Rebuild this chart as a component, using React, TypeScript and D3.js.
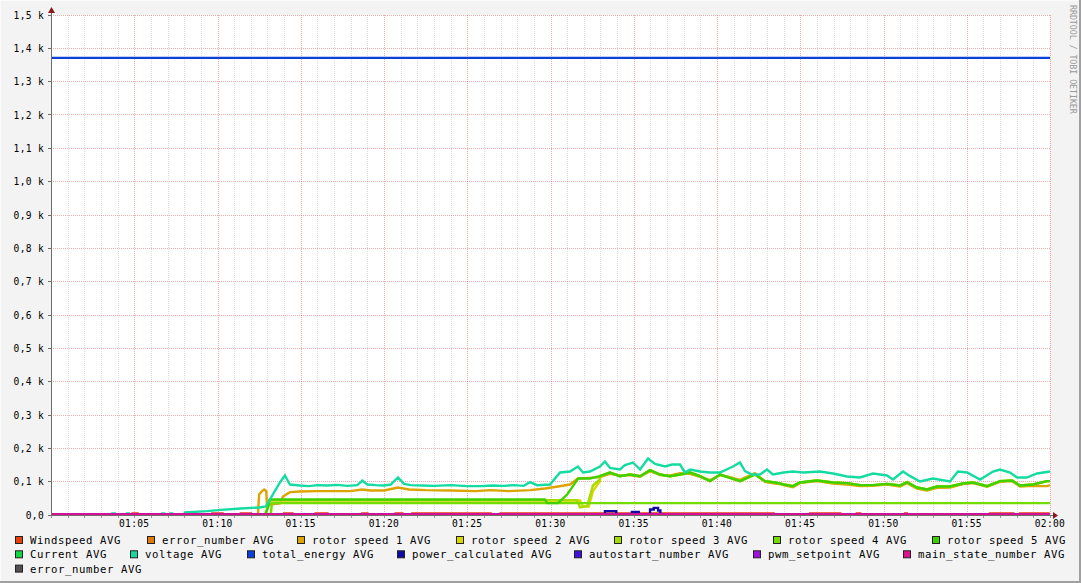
import React from "react";
import * as d3 from "d3";

type Pt = [number, number];

// ---------- DATA ----------
const seriesNames = [
  "Windspeed AVG",
  "error_number AVG",
  "rotor speed 1 AVG",
  "rotor speed 2 AVG",
  "rotor speed 3 AVG",
  "rotor speed 4 AVG",
  "rotor speed 5 AVG",
  "Current AVG",
  "voltage AVG",
  "total_energy AVG",
  "power_calculated AVG",
  "autostart_number AVG",
  "pwm_setpoint AVG",
  "main_state_number AVG",
  "error_number AVG",
];

const seriesColors = [
  "#e8400c",
  "#e0780c",
  "#dca400",
  "#d8d800",
  "#a8dc00",
  "#74dc00",
  "#40d000",
  "#10d840",
  "#14dca0",
  "#0c40d8",
  "#0c0ca4",
  "#4010e0",
  "#a010dc",
  "#e0108c",
  "#505050",
];

const yTickValues = [0, 100, 200, 300, 400, 500, 600, 700, 800, 900, 1000, 1100, 1200, 1300, 1400, 1500];

// minutes after 01:00, value
const windspeed: Pt[] = [
  [0, 0], [4.9, 3], [5.2, 0], [9.7, 3], [10.3, 0], [11.4, 3], [12.0, 0], [14.0, 3], [14.5, 0],
  [15.9, 3], [16.6, 0], [18.7, 3], [19.0, 0], [20.7, 3], [21.1, 0], [21.7, 3], [26.4, 0],
  [27.0, 3], [43.4, 0],
  [45.6, 3], [47.4, 0], [48.4, 3], [48.6, 0], [51.3, 3], [51.4, 0], [56.4, 3], [57.8, 0],
  [58.2, 3], [59.9, 0], [60, 0],
];
const errorNumber: Pt[] = [[0, 0], [60, 0]];
const rotor1: Pt[] = [
  [0, 0], [12.43, 0], [12.5, 60], [12.65, 69], [12.8, 75], [12.93, 70], [12.97, 24], [13.15, 30],
  [13.75, 33], [13.93, 54], [14.35, 67], [14.95, 69], [16, 70], [17, 70], [18, 70], [18.68, 75],
  [19.2, 72], [20.0, 72], [20.84, 81], [21.5, 75], [22.5, 73], [24, 72], [25.5, 70], [26.4, 73],
  [27.5, 70], [28.77, 73], [29.67, 78], [30.45, 84], [31.17, 90], [31.65, 108], [32.37, 110],
  [32.97, 112], [33.57, 122], [34.17, 117], [34.77, 118], [35.38, 113], [35.98, 130], [36.58, 118],
  [37.18, 117], [37.78, 124], [38.38, 122], [38.98, 113], [39.58, 103], [40.18, 118], [40.78, 112],
  [41.38, 104], [42.28, 124], [42.88, 98], [43.48, 93], [43.78, 91], [44.0, 88], [44.56, 82],
  [44.98, 94], [46.0, 100], [46.97, 93], [47.81, 90], [48.59, 85], [49.37, 86], [50.21, 90],
  [50.99, 84], [51.41, 94], [52.01, 78], [52.61, 72], [53.21, 80], [53.99, 81], [54.77, 91],
  [55.38, 94], [56.22, 83], [57.0, 98], [57.72, 100], [58.2, 84], [58.98, 86], [59.82, 85], [60, 88],
];
const rotor2Head: Pt[] = [
  [0, 0], [12.9, 0], [13.1, 42], [31.77, 42], [31.95, 24], [32.3, 24], [32.55, 70], [32.97, 100],
];
const rotor3Head: Pt[] = [
  [0, 0], [12.9, 0], [13.1, 43], [31.6, 43], [31.77, 21], [32.2, 25], [32.55, 87], [32.97, 105],
];
const rotor4: Pt[] = [[0, 0], [13.2, 0], [13.27, 34], [60, 34]];
const rotor5Head: Pt[] = [
  [0, 0], [12.85, 0], [13.03, 20], [13.15, 45], [29.67, 45], [29.8, 34], [30.45, 34], [31.0, 60],
  [31.35, 85], [31.65, 108], [32.37, 108],
];
const rotorGroupTail: Pt[] = [
  [32.97, 115], [33.57, 126], [34.17, 115], [34.77, 120], [35.38, 115], [35.98, 133], [36.58, 120],
  [37.18, 115], [37.78, 120], [38.38, 126], [38.98, 115], [39.58, 100], [40.18, 120], [40.78, 110],
  [41.38, 100], [42.28, 120], [42.88, 100], [43.48, 96], [43.78, 93], [44.0, 90], [44.56, 85],
  [44.98, 96], [46.0, 102], [46.97, 96], [47.81, 94], [48.59, 88], [49.37, 88], [50.21, 92],
  [50.99, 87], [51.41, 97], [52.01, 81], [52.61, 75], [53.21, 84], [53.99, 84], [54.77, 93],
  [55.38, 96], [56.22, 85], [57.0, 100], [57.72, 102], [58.2, 87], [58.98, 90], [59.82, 100], [60, 100],
];
const current: Pt[] = [[0, 0], [60, 0]];
const voltage: Pt[] = [
  [0, 0], [3.6, 0], [3.66, 3], [3.85, 3], [3.9, 0], [4.5, 0], [4.56, 3], [4.7, 3], [4.75, 0],
  [6.6, 0], [6.67, 3], [6.8, 3], [6.85, 0], [7.1, 0], [7.15, 3], [7.3, 3], [7.35, 0], [8.0, 0],
  [8.05, 6], [9.37, 10], [10.2, 14], [11.4, 18], [12.5, 21], [12.9, 24], [13.15, 45], [13.75, 96],
  [14.05, 117], [14.35, 90], [14.95, 87], [15.5, 85], [16, 88], [16.6, 87], [17.2, 89], [17.8, 86],
  [18.4, 88], [18.7, 102], [19.0, 90], [19.5, 88], [20.0, 87], [20.4, 90], [20.84, 111], [21.2, 92],
  [21.6, 88], [22.3, 87], [23, 86], [24, 88], [25, 85], [25.8, 85], [26.5, 87], [27.2, 86],
  [27.8, 88], [28.4, 86], [28.77, 97], [29.2, 88], [29.97, 90], [30.57, 126], [31.17, 129],
  [31.65, 144], [31.95, 126], [32.37, 129], [32.97, 144], [33.27, 159], [33.57, 140], [34.17, 135],
  [34.47, 148], [34.95, 156], [35.38, 135], [35.86, 168], [36.28, 152], [36.88, 144], [37.3, 150],
  [37.78, 150], [38.08, 126], [38.38, 135], [38.98, 129], [39.58, 126], [40.18, 126], [40.96, 144],
  [41.38, 156], [41.68, 130], [42.1, 120], [42.58, 120], [43.0, 135], [43.36, 120], [44.0, 126],
  [44.56, 129], [45.2, 126], [46.19, 129], [46.97, 123], [47.81, 114], [48.59, 111], [49.37, 123],
  [50.21, 117], [50.57, 105], [51.17, 129], [51.6, 115], [52.19, 99], [52.97, 108], [53.99, 99],
  [54.47, 129], [55.02, 126], [55.8, 105], [56.58, 129], [57.0, 135], [57.6, 126], [58.02, 111],
  [58.6, 111], [59.22, 123], [60, 129],
];
const totalEnergy: Pt[] = [[0, 1370], [60, 1370]];
const powerCalculated: Pt[] = [
  [0, 0], [33.2, 0], [33.27, 10], [33.87, 10], [33.95, 0], [34.8, 0], [34.89, 8], [35.2, 8], [35.3, 0],
  [35.9, 0], [35.98, 15], [36.2, 20], [36.46, 12], [36.6, 0], [60, 0],
];
const autostartNumber: Pt[] = [[0, 0], [60, 0]];
const pwmSetpoint: Pt[] = [[0, 0], [60, 0]];
const mainStateNumber: Pt[] = [[0, 0], [60, 0]];
const errorNumber2: Pt[] = [];

const seriesData: Pt[][] = [
  windspeed,
  errorNumber,
  rotor1,
  rotor2Head.concat(rotorGroupTail),
  rotor3Head.concat(rotorGroupTail),
  rotor4,
  rotor5Head.concat(rotorGroupTail),
  current,
  voltage,
  totalEnergy,
  powerCalculated,
  autostartNumber,
  pwmSetpoint,
  mainStateNumber,
  errorNumber2,
];
const stepSeries = [0, 10];

// legend layout (rows of series indices with swatch x positions)
const legendRows: { idx: number; x: number }[][] = [
  [{ idx: 0, x: 15 }, { idx: 1, x: 147 }, { idx: 2, x: 297 }, { idx: 3, x: 456 }, { idx: 4, x: 614 }, { idx: 5, x: 773 }, { idx: 6, x: 932 }],
  [{ idx: 7, x: 15 }, { idx: 8, x: 130 }, { idx: 9, x: 247 }, { idx: 10, x: 397 }, { idx: 11, x: 574 }, { idx: 12, x: 753 }, { idx: 13, x: 903 }],
  [{ idx: 14, x: 15 }],
];

const T0 = new Date(2024, 0, 1, 1, 0, 0).getTime();
const toDate = (m: number) => new Date(T0 + m * 60000);

const MONO = "'DejaVu Sans Mono', monospace";

export default function App() {
  const W = 1081, H = 583;
  const L = 51, R = 1050, TOP = 15, BOT = 515;
  const x = d3.scaleTime().domain([toDate(0), toDate(60)]).range([L, R]);
  const y = d3.scaleLinear().domain([0, 1500]).range([BOT, TOP]);

  const minorTicks = d3.timeMinute.every(1)!.range(toDate(0), toDate(60.01));
  const majorTicks = d3.timeMinute.every(5)!.range(toDate(0), toDate(60.01));
  const fmtTime = d3.timeFormat("%H:%M");
  const fmtY = (v: number) => (v === 0 ? "0,0" : (v / 1000).toFixed(1).replace(".", ",") + " k");

  const px = (d: Date) => Math.round(x(d)) + 0.5;
  const py = (v: number) => Math.floor(y(v)) + 0.5;

  return (
    <div style={{ position: "fixed", left: 0, top: 0, width: W, height: H }}>
      <svg width={W} height={H} style={{ display: "block" }}>
        <rect x={0} y={0} width={W} height={H} fill="#f3f3f3" />
        <line x1={0} y1={0.5} x2={W} y2={0.5} stroke="#fbfbfb" />
        <line x1={0.5} y1={0} x2={0.5} y2={H} stroke="#fbfbfb" />
        <rect x={W - 2} y={0} width={2} height={H} fill="#a0a0a0" />
        <rect x={0} y={H - 2} width={W} height={2} fill="#a0a0a0" />
        <rect x={L} y={TOP} width={R - L} height={BOT - TOP} fill="#ffffff" />

        {/* minor vertical grid */}
        {minorTicks
          .filter((d) => d.getMinutes() % 5 !== 0)
          .map((d, i) => (
            <line key={"mv" + i} x1={px(d)} x2={px(d)} y1={TOP} y2={BOT} stroke="rgba(150,150,150,0.3)" strokeDasharray="1,1" />
          ))}
        {/* major vertical grid */}
        {majorTicks
          .filter((d) => +d !== T0)
          .map((d, i) => (
            <line key={"Mv" + i} x1={px(d)} x2={px(d)} y1={TOP} y2={BOT} stroke="rgba(225,70,70,0.45)" strokeDasharray="1,1" />
          ))}
        {/* horizontal grid */}
        {yTickValues
          .filter((v) => v !== 0)
          .map((v) => (
            <line key={"h" + v} x1={L} x2={R} y1={py(v)} y2={py(v)} stroke="rgba(225,70,70,0.45)" strokeDasharray="1,1" />
          ))}

        {/* data */}
        {seriesData.map((data, i) => {
          if (!data.length) return null;
          const gen = d3
            .line<Pt>()
            .x((d) => x(toDate(d[0])))
            .y((d) => y(d[1]) - 0.5)
            .curve(stepSeries.includes(i) ? d3.curveStepAfter : d3.curveLinear);
          return <path key={"s" + i} d={gen(data) || ""} fill="none" stroke={seriesColors[i]} strokeWidth={2.4} strokeLinejoin="miter" />;
        })}

        {/* axes */}
        <line x1={L + 0.5} x2={L + 0.5} y1={10} y2={BOT + 3} stroke="#6e6e6e" />
        <line x1={L - 3} x2={R + 4} y1={BOT + 0.5} y2={BOT + 0.5} stroke="#6e6e6e" />
        {yTickValues.map((v) => (
          <line key={"yt" + v} x1={L - 3} x2={L} y1={py(v)} y2={py(v)} stroke="#6e6e6e" />
        ))}
        {minorTicks.map((d, i) => (
          <line key={"xt" + i} x1={px(d)} x2={px(d)} y1={BOT + 1} y2={BOT + 3} stroke="#9a9a9a" />
        ))}
        <polygon points={`${L - 3},13 ${L + 4},13 ${L + 0.5},7`} fill="#8c1a1a" />
        <polygon points={`${R + 3},${BOT - 3} ${R + 3},${BOT + 4} ${R + 8},${BOT + 0.5}`} fill="#8c1a1a" />

        {/* y labels */}
        {yTickValues.map((v) => (
          <text key={"yl" + v} x={44} y={y(v) + 3.5} textAnchor="end" fontFamily={MONO} fontSize={9.6} letterSpacing={0.3} fill="#000">
            {fmtY(v)}
          </text>
        ))}
        {/* x labels */}
        {majorTicks
          .filter((d) => +d !== T0)
          .map((d, i) => (
            <text key={"xl" + i} x={x(d)} y={527} textAnchor="middle" fontFamily={MONO} fontSize={9.6} letterSpacing={0.3} fill="#000">
              {fmtTime(d)}
            </text>
          ))}

        {/* watermark */}
        <text
          x={1069.5}
          y={5}
          transform="rotate(90, 1069.5, 5)"
          fontFamily={MONO}
          fontSize={8.4}
          letterSpacing={-0.1}
          fill="#999999"
        >
          RRDTOOL / TOBI OETIKER
        </text>

        {/* legend */}
        {legendRows.map((row, r) =>
          row.map((item) => {
            const ty = 544 + r * 14.3;
            return (
              <g key={"lg" + item.idx}>
                <rect x={item.x + 0.5} y={ty - 7.5} width={7} height={7} fill={seriesColors[item.idx]} stroke="#222" strokeWidth={1} />
                <text x={item.x + 15} y={ty} fontFamily={MONO} fontSize={10.67} letterSpacing={0.58} fill="#000">
                  {seriesNames[item.idx]}
                </text>
              </g>
            );
          })
        )}
      </svg>
    </div>
  );
}
